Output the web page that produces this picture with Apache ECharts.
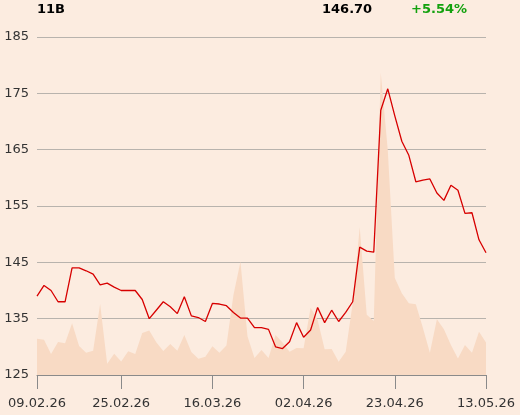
<!DOCTYPE html>
<html>
<head>
<meta charset="utf-8">
<script src="https://cdn.jsdelivr.net/npm/echarts@6/dist/echarts.min.js"></script>
<style>
html,body{margin:0;padding:0;background:#fcece0;}
#c{width:520px;height:415px;}
</style>
</head>
<body>
<div id="c"></div>
<script>
const dates = [
 '09.02.26','10.02.26','11.02.26','12.02.26','13.02.26','16.02.26','17.02.26','18.02.26','19.02.26','20.02.26',
 '23.02.26','24.02.26','25.02.26','26.02.26','27.02.26',
 '02.03.26','03.03.26','04.03.26','05.03.26','06.03.26','09.03.26','10.03.26','11.03.26','12.03.26','13.03.26',
 '16.03.26','17.03.26','18.03.26','19.03.26','20.03.26','23.03.26','24.03.26','25.03.26','26.03.26','27.03.26',
 '30.03.26','31.03.26','01.04.26','02.04.26','07.04.26','08.04.26','09.04.26','10.04.26','13.04.26','14.04.26',
 '15.04.26','16.04.26','17.04.26','20.04.26','21.04.26','22.04.26','23.04.26','24.04.26','27.04.26','28.04.26',
 '29.04.26','30.04.26','04.05.26','05.05.26','06.05.26','07.05.26','08.05.26','11.05.26','12.05.26','13.05.26'
];
const shownDates = ['09.02.26','25.02.26','16.03.26','02.04.26','23.04.26','13.05.26'];
const prices = [
 139.0,140.9,140.0,138.0,138.0,144.0,144.0,143.5,142.9,141.0,
 141.3,140.6,140.0,140.0,140.0,138.4,135.0,136.5,138.0,137.1,
 135.9,138.9,135.5,135.2,134.5,137.7,137.6,137.3,136.1,135.1,
 135.1,133.4,133.4,133.1,130.0,129.7,130.9,134.3,131.7,133.0,
 137.0,134.3,136.5,134.5,136.1,138.0,147.7,147.0,146.8,172.0,
 175.8,171.0,166.5,164.0,159.3,159.6,159.8,157.3,156.0,158.7,
 157.8,153.7,153.8,149.0,146.7
];
const volumes = [
 10.7,10.4,6.2,9.8,9.4,15.3,8.6,6.6,7.2,21.0,
 3.3,6.3,4.0,7.0,6.2,12.4,13.2,9.7,7.1,9.2,
 7.2,11.8,6.8,4.8,5.4,8.5,6.6,8.7,23.7,33.5,
 11.5,5.0,7.4,5.0,11.8,9.6,6.9,8.0,7.9,19.9,
 16.3,7.6,7.7,3.9,6.9,21.2,43.7,17.8,16.0,89.4,
 66.5,28.7,24.2,21.2,20.9,14.0,6.6,16.5,13.5,8.9,
 4.9,8.9,6.6,12.8,9.6
];
const yTicks = [125,135,145,155,165,175,185];
const header = {name:'11B', last:'146.70', change:'+5.54%'};

const chart = echarts.init(document.getElementById('c'));
const font = 'DejaVu Sans';
const showIdx = (i, v) => shownDates.indexOf(dates[i]) >= 0;
chart.setOption({
  backgroundColor:'#fcece0',
  animation:false,
  textStyle:{fontFamily:font},
  grid:{left:37,right:34,top:37,bottom:40},
  graphic:[
    {type:'text',left:37,top:3,style:{text:header.name,font:'bold 13px DejaVu Sans',fill:'#000'}},
    {type:'text',left:322,top:3,style:{text:header.last,font:'bold 13px DejaVu Sans',fill:'#000'}},
    {type:'text',left:411,top:3,style:{text:header.change,font:'bold 13px DejaVu Sans',fill:'#13a10e'}}
  ],
  xAxis:{
    type:'category', data:dates, boundaryGap:false,
    axisLine:{lineStyle:{color:'#8a8a8a',width:1}},
    axisTick:{show:true,length:14,interval:showIdx,lineStyle:{color:'#8a8a8a'}},
    axisLabel:{interval:showIdx,color:'#333',fontSize:13,fontFamily:font,margin:22,showMinLabel:true,showMaxLabel:true},
    splitLine:{show:false}
  },
  yAxis:[
    {type:'value',min:125,max:185,interval:10,position:'left',
     axisLine:{show:false},axisTick:{show:false,customValues:yTicks},
     axisLabel:{color:'#333',fontSize:13,fontFamily:font,margin:8,customValues:yTicks},
     splitLine:{lineStyle:{color:'#b8b3ad',width:1}}},
    {type:'value',min:0,max:100,show:false,splitLine:{show:false}}
  ],
  series:[
    {type:'line',yAxisIndex:1,data:volumes,symbol:'none',lineStyle:{width:0},
     areaStyle:{color:'#f8dac4',opacity:1},z:1,silent:true},
    {type:'line',yAxisIndex:0,data:prices,symbol:'none',
     lineStyle:{color:'#d70000',width:1.3},z:3}
  ]
});
</script>
</body>
</html>
